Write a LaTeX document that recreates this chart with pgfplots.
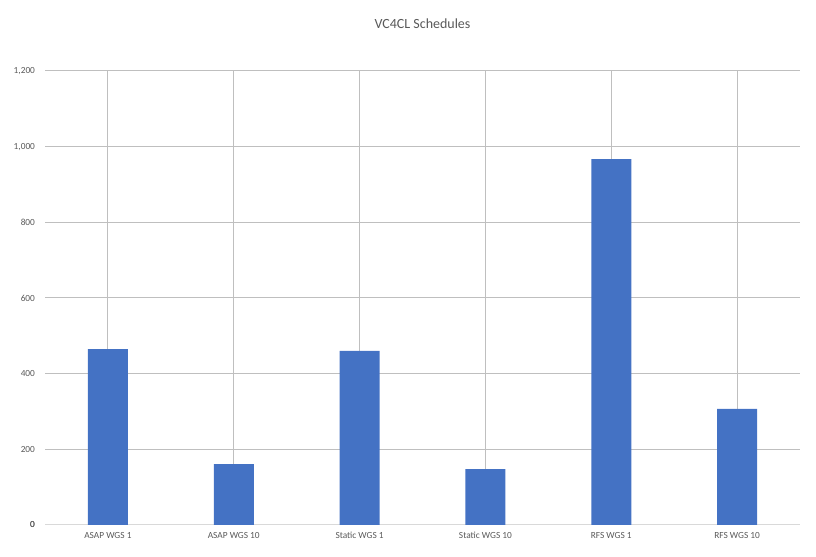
\documentclass[border=0pt]{standalone}
\usepackage{pgfplots}
\pgfplotsset{compat=1.18}
\usepackage{fontspec}
\setmainfont{Carlito}
\definecolor{bar}{HTML}{4472C4}
\definecolor{grid}{HTML}{D9D9D9}
\definecolor{txt}{HTML}{595959}
\begin{document}
\begin{tikzpicture}[x=1pt,y=1pt]
\path[use as bounding box] (0,0) rectangle (612,417);
\begin{axis}[at={(33.75pt,23.25pt)},anchor=south west,scale only axis,
 width=566.25pt,height=340.5pt,
 xmin=-0.5,xmax=5.5,ymin=0,ymax=1200,
 xtick=data,xticklabels={ASAP WGS 1,ASAP WGS 10,Static WGS 1,Static WGS 10,RFS WGS 1,RFS WGS 10},
 ytick={0,200,...,1200},
 ymajorgrids,grid style={grid,line width=0.75pt},
 axis line style={draw=none},
 extra y ticks={0},extra y tick style={grid style={grid,line width=0.75pt}},
 major tick length=0pt,
 tick label style={font=\fontsize{7}{8}\selectfont,text=txt},
 /pgf/number format/assume math mode=true,
 yticklabel style={xshift=-4pt},
 xticklabel style={yshift=-2pt},
 title={VC4CL Schedules},
 title style={font=\fontsize{10.5}{12}\selectfont,text=txt,at={(0.5,1)},yshift=22pt,anchor=south},
 ]
\addplot[ybar,bar width=30pt,fill=bar,draw=none] coordinates {(0,465) (1,161) (2,460) (3,148) (4,967) (5,307)};
\end{axis}
\end{tikzpicture}
\end{document}
